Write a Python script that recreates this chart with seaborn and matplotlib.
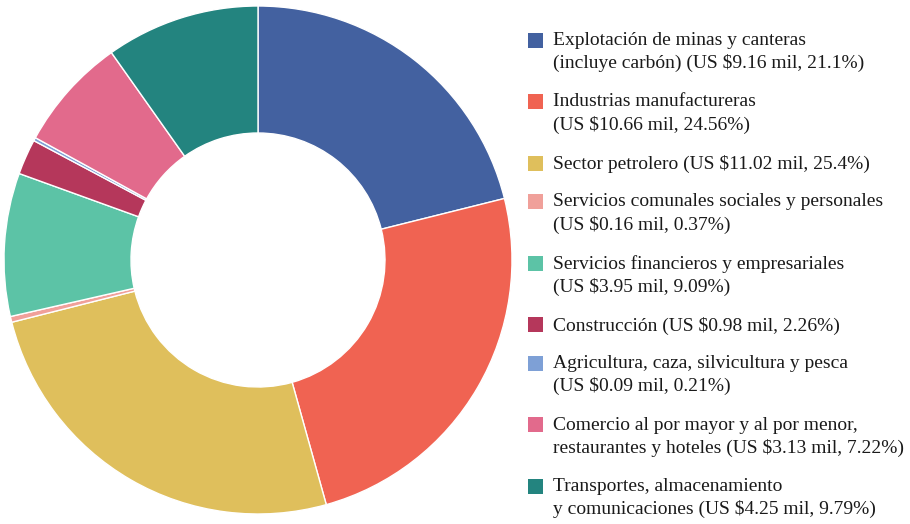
import matplotlib
matplotlib.use("Agg")
import matplotlib.pyplot as plt
import seaborn as sns
from matplotlib.patches import Rectangle

sectors = [
    "Explotación de minas y canteras\n(incluye carbón) (US $9.16 mil, 21.1%)",
    "Industrias manufactureras\n(US $10.66 mil, 24.56%)",
    "Sector petrolero (US $11.02 mil, 25.4%)",
    "Servicios comunales sociales y personales\n(US $0.16 mil, 0.37%)",
    "Servicios financieros y empresariales\n(US $3.95 mil, 9.09%)",
    "Construcción (US $0.98 mil, 2.26%)",
    "Agricultura, caza, silvicultura y pesca\n(US $0.09 mil, 0.21%)",
    "Comercio al por mayor y al por menor,\nrestaurantes y hoteles (US $3.13 mil, 7.22%)",
    "Transportes, almacenamiento\ny comunicaciones (US $4.25 mil, 9.79%)",
]
values = [9.16, 10.66, 11.02, 0.16, 3.95, 0.98, 0.09, 3.13, 4.25]
colors = ["#4361a0", "#f06352", "#dfbf5c", "#f0a09a", "#5cc3a6",
          "#b5375b", "#7ea0d6", "#e26a8c", "#23847f"]

sns.set_theme(style="white")
plt.rcParams["font.family"] = ["Liberation Serif", "DejaVu Serif"]

W, H = 910, 524
fig = plt.figure(figsize=(W / 100, H / 100), dpi=100)
cx, cy, r = 258, 260, 254
ax = fig.add_axes([(cx - r) / W, (H - cy - r) / H, 2 * r / W, 2 * r / H])
ax.pie(values, colors=colors, startangle=90, counterclock=False,
       wedgeprops=dict(width=0.5, edgecolor="white", linewidth=1.0))
ax.set_aspect("equal")
ax.set_xlim(-1, 1)
ax.set_ylim(-1, 1)
ax.axis("off")

# manual legend
y = 40
line_h = 23
gap = 38.5
sq = 15
for lab, col in zip(sectors, colors):
    n = lab.count("\n") + 1
    fig.patches.append(Rectangle((528 / W, (H - y - sq / 2) / H), sq / W, sq / H,
                                 transform=fig.transFigure, facecolor=col,
                                 edgecolor="none"))
    fig.text(553 / W, (H - y + 8) / H, lab, fontsize=14, color="#1a1a1a",
             va="top", ha="left", linespacing=1.36)
    y += (n - 1) * line_h + gap

fig.savefig("out.png", dpi=100)
